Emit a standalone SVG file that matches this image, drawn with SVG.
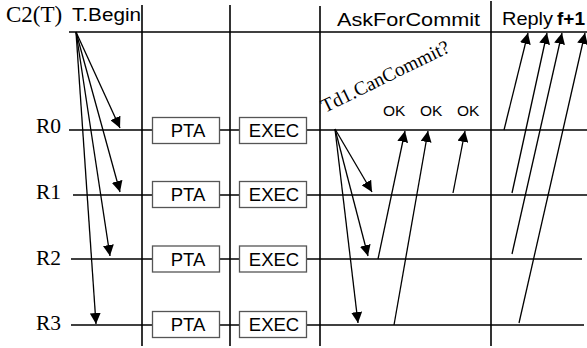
<svg xmlns="http://www.w3.org/2000/svg" width="587" height="348" viewBox="0 0 587 348">
  <defs>
    <marker id="head" viewBox="0 0 10 10" refX="10" refY="5" markerWidth="11" markerHeight="11" markerUnits="userSpaceOnUse" orient="auto">
      <path d="M0,0 L10,5 L0,10 z" fill="#000"/>
    </marker>
    <style>
      .lane{stroke:#000;stroke-width:1.6;fill:none}
      .sep{stroke:#000;stroke-width:1.6;fill:none}
      .msg{stroke:#000;stroke-width:1.3;fill:none;marker-end:url(#head)}
      .box{fill:#fff;stroke:#555;stroke-width:1.3}
      .serif{font-family:"Liberation Serif","Times New Roman",serif;fill:#000}
      .sans{font-family:"Liberation Sans",Arial,sans-serif;fill:#000}
      .step{font-family:"Liberation Sans",Arial,sans-serif;font-size:18.5px;fill:#000;text-anchor:middle}
    </style>
  </defs>

  <rect x="0" y="0" width="587" height="348" fill="#fff"/>

  <!-- phase separators and headings -->
  <g id="phases">
    <line class="sep" x1="142" y1="5" x2="142" y2="346"/>
    <line class="sep" x1="230" y1="5" x2="230" y2="346"/>
    <line class="sep" x1="320" y1="6" x2="320" y2="346"/>
    <line class="sep" x1="491" y1="1" x2="491" y2="346"/>
    <text class="sans" x="72" y="21" font-size="18.7" textLength="69" lengthAdjust="spacingAndGlyphs">T.Begin</text>
    <text class="sans" x="337" y="25.5" font-size="19" textLength="143" lengthAdjust="spacingAndGlyphs">AskForCommit</text>
    <text class="sans" x="502" y="25" font-size="19" textLength="51" lengthAdjust="spacingAndGlyphs">Reply</text>
    <text class="sans" x="557" y="25" font-size="19" font-weight="bold">f+1</text>
  </g>

  <!-- coordinator timeline -->
  <g id="c2">
    <line class="lane" x1="69" y1="32" x2="587" y2="32"/>
    <text class="serif" x="6" y="21.5" font-size="23">C2(T)</text>
  </g>

  <!-- replica timelines -->
  <g id="r0">
    <line class="lane" x1="69" y1="130" x2="587" y2="130"/>
    <text class="serif" x="61" y="133" font-size="21.5" text-anchor="end">R0</text>
  </g>
  <g id="r1">
    <line class="lane" x1="73" y1="195" x2="587" y2="195"/>
    <text class="serif" x="61" y="199" font-size="21.5" text-anchor="end">R1</text>
  </g>
  <g id="r2">
    <line class="lane" x1="71" y1="259" x2="582" y2="259"/>
    <text class="serif" x="61" y="265" font-size="21.5" text-anchor="end">R2</text>
  </g>
  <g id="r3">
    <line class="lane" x1="71" y1="325" x2="584" y2="325"/>
    <text class="serif" x="61" y="330" font-size="21.5" text-anchor="end">R3</text>
  </g>

  <!-- per-replica processing steps -->
  <g id="pta-r0"><rect class="box" x="152.5" y="117.5" width="67" height="26"/><text class="step" x="188" y="137">PTA</text></g>
  <g id="exec-r0"><rect class="box" x="239.5" y="117.5" width="67" height="26"/><text class="step" x="274" y="137">EXEC</text></g>
  <g id="pta-r1"><rect class="box" x="152.5" y="181.5" width="67" height="26"/><text class="step" x="188" y="201">PTA</text></g>
  <g id="exec-r1"><rect class="box" x="239.5" y="181.5" width="67" height="26"/><text class="step" x="274" y="201">EXEC</text></g>
  <g id="pta-r2"><rect class="box" x="152.5" y="246" width="67" height="26"/><text class="step" x="188" y="265.5">PTA</text></g>
  <g id="exec-r2"><rect class="box" x="239.5" y="246" width="67" height="26"/><text class="step" x="274" y="265.5">EXEC</text></g>
  <g id="pta-r3"><rect class="box" x="152.5" y="311.5" width="67" height="26"/><text class="step" x="188" y="331">PTA</text></g>
  <g id="exec-r3"><rect class="box" x="239.5" y="311.5" width="67" height="26"/><text class="step" x="274" y="331">EXEC</text></g>

  <!-- message labels -->
  <g id="labels">
    <text class="serif" font-size="19.5" transform="translate(325,113) rotate(-26)">Td1.CanCommit?</text>
    <text class="sans" x="383" y="116" font-size="15.5">OK</text>
    <text class="sans" x="420" y="116" font-size="15.5">OK</text>
    <text class="sans" x="457" y="116" font-size="15.5">OK</text>
  </g>

  <!-- messages -->
  <g id="connectors">
    <!-- begin: coordinator to replicas -->
    <line class="msg" x1="76" y1="32" x2="120" y2="128"/>
    <line class="msg" x1="76" y1="32" x2="120" y2="192"/>
    <line class="msg" x1="76" y1="32" x2="110" y2="256"/>
    <line class="msg" x1="76" y1="32" x2="96" y2="324"/>
    <!-- commit request from R0 -->
    <line class="msg" x1="335" y1="129" x2="372" y2="192"/>
    <line class="msg" x1="335" y1="129" x2="368" y2="256"/>
    <line class="msg" x1="335" y1="129" x2="358" y2="323"/>
    <!-- OK votes back to R0 -->
    <line class="msg" x1="378" y1="259" x2="405" y2="131"/>
    <line class="msg" x1="394" y1="325" x2="428" y2="131"/>
    <line class="msg" x1="453" y1="193" x2="465" y2="131"/>
    <!-- replies to the coordinator -->
    <line class="msg" x1="504" y1="130" x2="528" y2="33"/>
    <line class="msg" x1="512" y1="193" x2="547" y2="33"/>
    <line class="msg" x1="512" y1="254" x2="562" y2="33"/>
    <line class="msg" x1="519" y1="323" x2="585" y2="33"/>
  </g>
</svg>
